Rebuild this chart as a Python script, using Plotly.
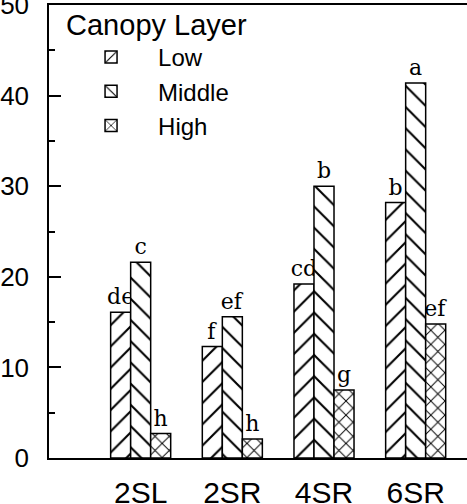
import plotly.graph_objects as go

categories = ["2SL", "2SR", "4SR", "6SR"]
low_vals = [16.1, 12.3, 19.2, 28.2]
mid_vals = [21.6, 15.6, 30.0, 41.4]
high_vals = [2.7, 2.1, 7.5, 14.8]
low_letters = ["de", "f", "cd", "b"]
mid_letters = ["c", "ef", "b", "a"]
high_letters = ["h", "h", "g", "ef"]
series_names = ["Low", "Middle", "High"]
y_ticks = [0, 10, 20, 30, 40, 50]

SERIF = "DejaVu Serif, Liberation Serif, serif"
SANS = "Liberation Sans, Arial, Helvetica, sans-serif"

fig = go.Figure()
specs = [
    (series_names[0], low_vals, low_letters, "/", 15, 0.14),
    (series_names[1], mid_vals, mid_letters, "\\", 15, 0.14),
    (series_names[2], high_vals, high_letters, "x", 10, 0.18),
]
for name, vals, letters, shape, size, sol in specs:
    fig.add_trace(go.Bar(
        name=name, x=categories, y=vals, text=letters,
        textposition="outside", constraintext="none", cliponaxis=False,
        textfont=dict(family=SERIF, size=22, color="black"),
        marker=dict(color="white", line=dict(color="black", width=1.5),
                    pattern=dict(shape=shape, size=size, solidity=sol,
                                 fgcolor="black", bgcolor="white", fillmode="replace")),
    ))

fig.update_layout(
    width=467, height=504,
    margin=dict(l=49, r=0, t=5, b=46, autoexpand=False),
    paper_bgcolor="white", plot_bgcolor="white",
    barmode="group", bargap=0.345, bargroupgap=0,
    showlegend=True,
    legend=dict(
        x=0.036, y=1.017, xanchor="left", yanchor="top",
        bgcolor="rgba(0,0,0,0)", borderwidth=0,
        font=dict(family=SANS, size=24, color="black"),
        title=dict(text="Canopy Layer", font=dict(family=SANS, size=29, color="black")),
        itemwidth=84, tracegroupgap=0,
    ),
)
fig.update_xaxes(
    type="category", range=[-1.0, 3.56],
    showline=True, linecolor="black", linewidth=1.5, mirror=True,
    ticks="", showgrid=False, automargin=False,
    tickfont=dict(family=SANS, size=30, color="black"),
    ticklabelstandoff=7, ticklabeloverflow="allow",
)
fig.update_yaxes(
    range=[0, 50], tickvals=y_ticks, ticktext=[str(v) for v in y_ticks],
    showline=True, linecolor="black", linewidth=1.5, mirror=False,
    ticks="inside", ticklen=12, tickwidth=1.5, tickcolor="black",
    minor=dict(dtick=5, ticks="inside", ticklen=6, tickwidth=1.5, tickcolor="black", showgrid=False),
    showgrid=False, zeroline=False, automargin=False,
    tickfont=dict(family=SANS, size=26, color="black"),
    ticklabelstandoff=13, ticklabeloverflow="allow",
)

fig.write_html("out.html")
